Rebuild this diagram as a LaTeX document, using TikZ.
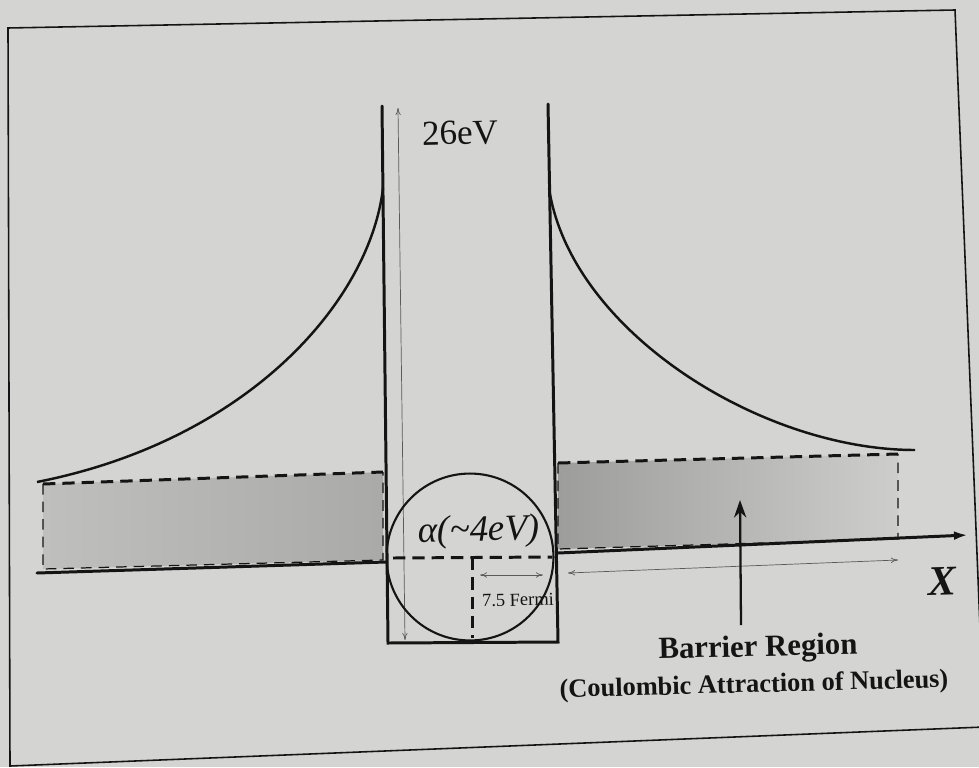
\documentclass[tikz,border=0pt]{standalone}
\usepackage{fontspec}
\setmainfont{Liberation Serif}
\usetikzlibrary{arrows.meta}
\definecolor{paper}{RGB}{212,212,210}
\definecolor{inkline}{RGB}{20,20,20}
\definecolor{thinink}{RGB}{90,90,90}
\begin{document}
\begin{tikzpicture}[x=0.02cm,y=-0.02cm,
  thickline/.style={draw=inkline,line width=1.7pt,line cap=round,line join=miter},
  curveline/.style={draw=inkline,line width=1.4pt},
  dashline/.style={draw=inkline,line width=1.7pt,dash pattern=on 7pt off 4pt},
  thindash/.style={draw=inkline,line width=0.7pt,dash pattern=on 6pt off 4pt},
  thinarrow/.style={draw=thinink,line width=0.4pt,{To[length=4pt,width=3pt]}-{To[length=4pt,width=3pt]}},
  framestyle/.style={draw=inkline,line width=0.9pt},
  lbl/.style={text=inkline,inner sep=0pt,rotate=1.5}]
\useasboundingbox[fill=paper] (0,0) rectangle (979,767);
\clip (0,0) rectangle (979,767);
% frame
\coordinate (f1) at (8,28);
\coordinate (f2) at (955,10);
\coordinate (f3) at (984,727);
\coordinate (f4) at (10,766);
\draw[framestyle] (f1) -- (f2) -- (f3) -- (f4) -- cycle;
% barrier rectangles
\coordinate (l1) at (43,484);
\coordinate (l2) at (383,472);
\coordinate (l3) at (383,560);
\coordinate (l4) at (43,569);
\coordinate (r1) at (558,463);
\coordinate (r2) at (898,454);
\coordinate (r3) at (898,539);
\coordinate (r4) at (558,549);
\shade[left color=paper!75!gray, right color=paper!50!gray] (l1) -- (l2) -- (l3) -- (l4) -- cycle;
\shade[left color=paper!35!gray, right color=paper!92!gray] (r1) -- (r2) -- (r3) -- (r4) -- cycle;
\draw[dashline] (l1) -- (l2);
\draw[dashline] (r1) -- (r2);
\draw[thindash] (l1) -- (l4) -- (l3) -- (l2);
\draw[thindash] (r1) -- (r4) -- (r3) -- (r2);
% potential curves
\coordinate (cl1) at (37,482);
\coordinate (cl2) at (383,188);
\coordinate (cr1) at (549,188);
\coordinate (cr2) at (915,450);
\draw[curveline] (cl1) .. controls (250,440) and (370,300) .. (cl2);
\draw[curveline] (cr1) .. controls (570,330) and (760,450) .. (cr2);
% well
\coordinate (wlt) at (382,106);
\coordinate (wlb) at (388,643);
\coordinate (wrb) at (558,642);
\coordinate (wrt) at (548,104);
\draw[thickline] (wlt) -- (wlb) -- (wrb) -- (wrt);
% x axis
\coordinate (axl1) at (37,573);
\coordinate (axl2) at (386,562);
\coordinate (axr1) at (558,553);
\coordinate (axr2) at (968,535);
\draw[thickline] (axl1) -- (axl2);
\draw[thickline,-{Latex[length=8pt,width=5pt]}] (axr1) -- (axr2);
% 26 eV arrow
\coordinate (e1) at (398,108);
\coordinate (e2) at (405,640);
\draw[thinarrow] (e1) -- (e2);
% alpha circle
\node[circle,draw=inkline,line width=1.2pt,minimum size=95pt,inner sep=0pt] (alphacirc) at (470,557) {};
\coordinate (d1) at (393,558);
\coordinate (d2) at (552,557);
\coordinate (d3) at (472,558);
\coordinate (d4) at (472,638);
\draw[dashline] (d1) -- (d2);
\draw[dashline] (d3) -- (d4);
% small widths
\coordinate (s1) at (480,575);
\coordinate (s2) at (543,575);
\draw[thinarrow] (s1) -- (s2);
\coordinate (w1) at (568,573);
\coordinate (w2) at (898,560);
\draw[thinarrow] (w1) -- (w2);
% barrier arrow
\coordinate (b1) at (741,625);
\coordinate (b2) at (740,500);
\draw[draw=inkline,line width=1.3pt,-{Stealth[length=10pt,width=7pt]}] (b1) -- (b2);
% labels
\node[lbl] (ev) at (460,133) {\fontsize{20}{24}\selectfont 26eV};
\node[lbl] (alpha) at (479,532) {\fontsize{21}{25}\selectfont\itshape α(\textasciitilde 4eV)};
\node[lbl] (fermi) at (518,600) {\fontsize{10.5}{12}\selectfont 7.5 Fermi};
\node[lbl] (xlab) at (942,581) {\fontsize{24}{28}\selectfont\bfseries\itshape X};
\node[lbl] (barrier) at (758,649) {\fontsize{17.5}{21}\selectfont\bfseries Barrier Region};
\node[lbl] (coul) at (754,686) {\fontsize{15}{18}\selectfont\bfseries (Coulombic Attraction of Nucleus)};
\end{tikzpicture}
\end{document}
